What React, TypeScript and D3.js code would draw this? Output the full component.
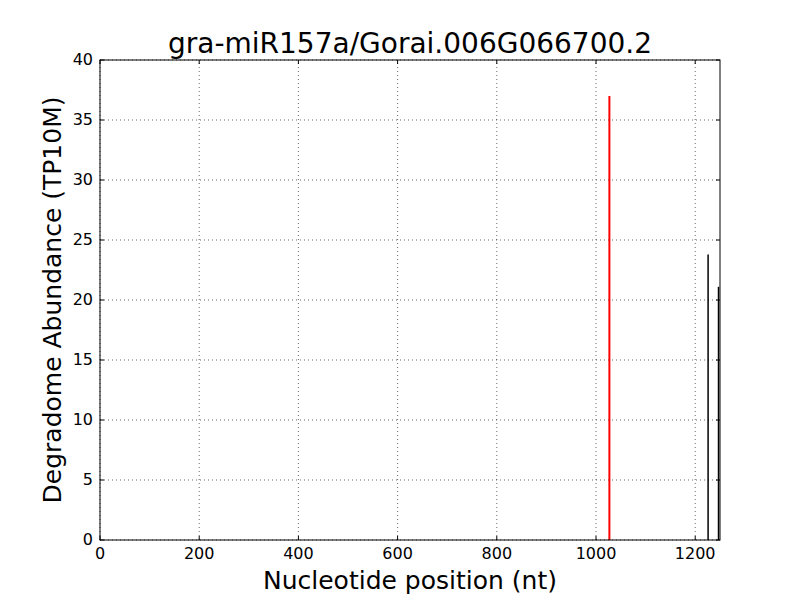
import React, { useEffect, useRef } from "react";
import * as d3 from "d3";

const title = "gra-miR157a/Gorai.006G066700.2";
const xTicks = [0, 200, 400, 600, 800, 1000, 1200];
const yTicks = [0, 5, 10, 15, 20, 25, 30, 35, 40];
// degradome peaks: position, abundance
const peakPos = [1226, 1247];
const peakVal = [23.8, 21.1];
const targetPos = [1027];
const targetVal = [37.0];

export default function App() {
  const ref = useRef<SVGSVGElement>(null);

  useEffect(() => {
    const width = 800, height = 600;
    const m = { left: 100, right: 80, top: 60, bottom: 60 };
    const svg = d3.select(ref.current);
    svg.selectAll("*").remove();

    const x = d3.scaleLinear().domain([0, 1250]).range([m.left, width - m.right]);
    const y = d3.scaleLinear().domain([0, 40]).range([height - m.bottom, m.top]);

    svg.append("rect").attr("width", width).attr("height", height).attr("fill", "#fff");

    const font = "DejaVu Sans, sans-serif";

    // grid
    const grid = svg.append("g").attr("stroke", "#000").attr("stroke-width", 0.6)
      .attr("stroke-dasharray", "1,3");
    xTicks.forEach(t => grid.append("line")
      .attr("x1", x(t)).attr("x2", x(t)).attr("y1", y(0)).attr("y2", y(40)));
    yTicks.forEach(t => grid.append("line")
      .attr("x1", x(0)).attr("x2", x(1250)).attr("y1", y(t)).attr("y2", y(t)));

    // peaks
    peakPos.forEach((p, i) => {
      svg.append("line").attr("x1", x(p)).attr("x2", x(p))
        .attr("y1", y(0)).attr("y2", y(peakVal[i]))
        .attr("stroke", "#000").attr("stroke-width", 1.5);
    });
    targetPos.forEach((p, i) => {
      svg.append("line").attr("x1", x(p)).attr("x2", x(p))
        .attr("y1", y(0)).attr("y2", y(targetVal[i]))
        .attr("stroke", "#ff0000").attr("stroke-width", 2);
    });

    // frame
    svg.append("rect").attr("x", x(0)).attr("y", y(40))
      .attr("width", x(1250) - x(0)).attr("height", y(0) - y(40))
      .attr("fill", "none").attr("stroke", "#000").attr("stroke-width", 1);

    // ticks, inward on all sides
    const tk = svg.append("g").attr("stroke", "#000").attr("stroke-width", 1);
    xTicks.forEach(t => {
      tk.append("line").attr("x1", x(t)).attr("x2", x(t)).attr("y1", y(0)).attr("y2", y(0) - 4);
      tk.append("line").attr("x1", x(t)).attr("x2", x(t)).attr("y1", y(40)).attr("y2", y(40) + 4);
    });
    yTicks.forEach(t => {
      tk.append("line").attr("x1", x(0)).attr("x2", x(0) + 4).attr("y1", y(t)).attr("y2", y(t));
      tk.append("line").attr("x1", x(1250)).attr("x2", x(1250) - 4).attr("y1", y(t)).attr("y2", y(t));
    });

    svg.append("g").selectAll("text").data(xTicks).join("text")
      .attr("x", d => x(d)).attr("y", y(0) + 19)
      .attr("text-anchor", "middle").attr("font-family", font).attr("font-size", 16)
      .text(d => String(d));
    svg.append("g").selectAll("text").data(yTicks).join("text")
      .attr("x", x(0) - 7).attr("y", d => y(d) + 5)
      .attr("text-anchor", "end").attr("font-family", font).attr("font-size", 16)
      .text(d => String(d));

    svg.append("text").attr("x", (x(0) + x(1250)) / 2).attr("y", 53)
      .attr("text-anchor", "middle").attr("font-family", font).attr("font-size", 28)
      .text(title);
    svg.append("text").attr("x", (x(0) + x(1250)) / 2).attr("y", 589)
      .attr("text-anchor", "middle").attr("font-family", font).attr("font-size", 25)
      .text("Nucleotide position (nt)");
    svg.append("text")
      .attr("transform", `translate(61,${(y(0) + y(40)) / 2}) rotate(-90)`)
      .attr("text-anchor", "middle").attr("font-family", font).attr("font-size", 25)
      .text("Degradome Abundance (TP10M)");
  }, []);

  return <svg ref={ref} width={800} height={600} style={{ display: "block", position: "absolute", left: 0, top: 0 }} />;
}
